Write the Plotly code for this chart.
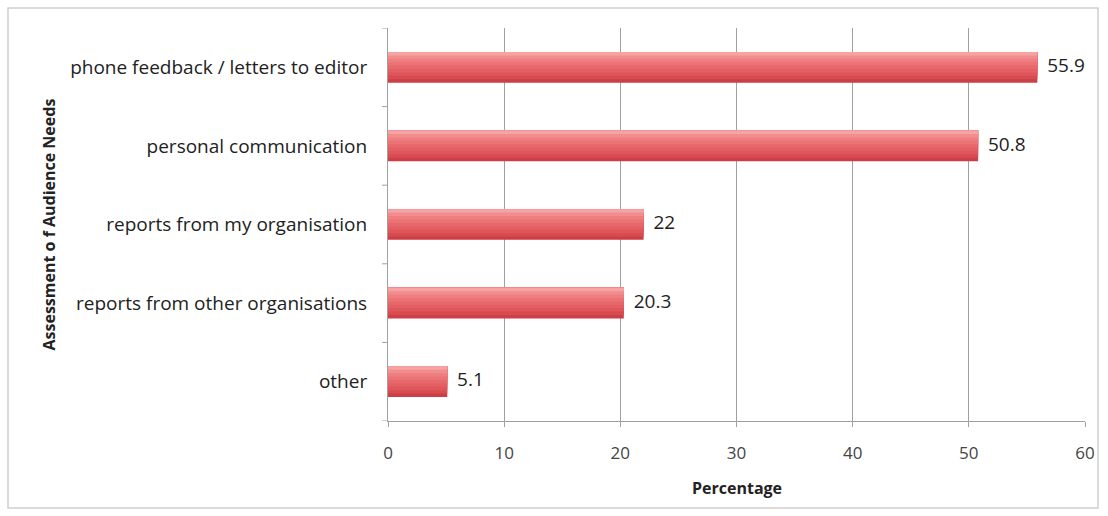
import plotly.graph_objects as go

# Survey results: how editors assess the needs of their audience
categories = [
    "phone feedback / letters to editor",
    "personal communication",
    "reports from my organisation",
    "reports from other organisations",
    "other",
]
percentages = [55.9, 50.8, 22, 20.3, 5.1]
x_ticks = [0, 10, 20, 30, 40, 50, 60]

# Bottom-to-top order for a horizontal bar chart
cats = categories[::-1]
vals = percentages[::-1]
positions = list(range(len(cats)))

FONT = "Open Sans, Noto Sans, sans-serif"
BAR_WIDTH = 0.39

# Shading bands (top -> bottom) giving the bars a glossy look
shades = ["#f6a3a3", "#f28d8e", "#ee7e80", "#eb7275", "#e7686b",
          "#e35f63", "#de555a", "#d84b51", "#cc3f46"]
n = len(shades)
strip = BAR_WIDTH / n
top = BAR_WIDTH / 2

fig = go.Figure()
# Darkest layer covers the full bar; each lighter layer covers a shorter
# slice measured from the top edge, so no seams show between bands.
for i in range(n):
    col = shades[n - 1 - i]
    h = (n - i) * strip
    fig.add_trace(go.Bar(
        y=positions, x=vals, orientation="h",
        width=h, offset=top - h,
        marker=dict(color=col, line=dict(width=0)),
        hoverinfo="skip", showlegend=False,
    ))

# Value labels just past the end of each bar
fig.add_trace(go.Scatter(
    y=positions, x=vals, mode="text",
    text=["  " + f"{v:g}" for v in vals], textposition="middle right",
    textfont=dict(family=FONT, size=19, color="#222"),
    showlegend=False, hoverinfo="skip", cliponaxis=False,
))

fig.update_layout(
    width=1108, height=516,
    margin=dict(l=388, r=23, t=28, b=95),
    paper_bgcolor="white", plot_bgcolor="white",
    barmode="overlay",
    font=dict(family=FONT, color="#333"),
    xaxis=dict(
        range=[0, 60], tickvals=x_ticks, ticktext=[str(t) for t in x_ticks],
        showgrid=True, gridcolor="#a0a0a0", gridwidth=1,
        showline=True, linecolor="#a0a0a0", linewidth=1,
        ticks="outside", ticklen=5, tickcolor="#a0a0a0",
        tickfont=dict(size=17, color="#444"), ticklabelstandoff=12,
        zeroline=False,
    ),
    yaxis=dict(
        range=[-0.5, len(cats) - 0.5],
        tickvals=positions, ticktext=cats,
        showgrid=False, zeroline=False,
        showline=True, linecolor="#a0a0a0", linewidth=1,
        ticks="", tickfont=dict(size=19, color="#222"),
        ticklabelstandoff=16,
    ),
    shapes=[
        dict(type="rect", xref="paper", yref="paper",
             x0=-380 / 697, x1=1 + 13 / 697, y0=-87 / 393, y1=1 + 20 / 393,
             line=dict(color="#cfcfcf", width=1.5), layer="below"),
    ] + [
        # small outward ticks on the category boundaries
        dict(type="line", xref="paper", yref="y",
             x0=-6 / 697, x1=0, y0=b - 0.5, y1=b - 0.5,
             line=dict(color="#a0a0a0", width=1))
        for b in range(len(cats) + 1)
    ],
    annotations=[
        dict(text="<b>Percentage</b>", xref="paper", yref="paper",
             x=(737 - 388) / 697, y=(421 - 488) / 393,
             xanchor="center", yanchor="middle", showarrow=False,
             font=dict(size=16, color="#222", family=FONT)),
        dict(text="<b>Assessment o f Audience Needs</b>", xref="paper", yref="paper",
             x=(48 - 388) / 697, y=0.5, textangle=-90,
             xanchor="center", yanchor="middle", showarrow=False,
             font=dict(size=16, color="#222", family=FONT)),
    ],
)

fig.write_html("out.html")
